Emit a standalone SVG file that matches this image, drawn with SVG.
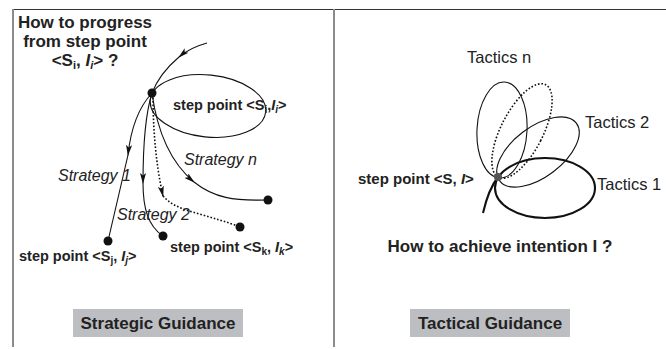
<svg xmlns="http://www.w3.org/2000/svg" width="666" height="349" viewBox="0 0 666 349">
<defs>
<style>
text{font-family:"Liberation Sans",Arial,sans-serif;fill:#222}
.b{font-weight:bold}
.h{font-size:17px;font-weight:bold}
.sp{font-size:14.5px;font-weight:bold}
.it{font-style:italic;font-size:16px}
.tac{font-size:16.5px}
.ln{fill:none;stroke:#111;stroke-width:1.1}
.dot{fill:none;stroke:#111;stroke-width:1.6;stroke-dasharray:1.6 1.9}
.thick{fill:none;stroke:#111;stroke-width:2.1}
.frame{stroke:#8c8c8c;stroke-width:2}
.box{fill:#bdbec1}
</style>
<marker id="arr" viewBox="0 0 11 6" refX="10" refY="3" markerWidth="11" markerHeight="6" markerUnits="userSpaceOnUse" orient="auto">
<path d="M0,0 L11,3 L0,6 L2.5,3 z" fill="#111"/>
</marker>
</defs>

<g id="frame">
<line x1="12" y1="9.5" x2="666" y2="9.5" stroke="#333" stroke-width="1.2"/>
<line class="frame" x1="13" y1="9" x2="13" y2="347"/>
<line class="frame" x1="334" y1="9" x2="334" y2="347"/>
</g>

<g id="connectors">
<!-- left: incoming -->
<path class="ln" d="M207,43 C196,46 186,51 179,57" marker-end="url(#arr)"/>
<path class="ln" d="M179,57 C166,68 157,80 152,93"/>
<!-- strategy 1 -->
<path class="ln" d="M152,93 C140,106 131,126 128,155" marker-end="url(#arr)"/>
<path class="ln" d="M128,155 L108,241"/>
<!-- strategy 2 solid -->
<path class="ln" d="M152,93 C146,112 143,142 143,183" marker-end="url(#arr)"/>
<path class="ln" d="M143,183 C143,208 148,226 163,236"/>
<!-- dotted -->
<path class="dot" d="M153,94 C153,130 156,165 163,196" marker-end="url(#arr)"/>
<path class="dot" d="M163,196 C172,206 185,210 196,213 C212,218 228,222 240,227"/>
<!-- strategy n -->
<path class="ln" d="M152,93 C157,130 170,162 194,182" marker-end="url(#arr)"/>
<path class="ln" d="M194,182 C214,198 234,201 268,200"/>
<!-- right: incoming thick -->
<path class="thick" d="M483,213 C486,200 491,186 498,177"/>
</g>

<g id="left-title">
<text class="h" x="85" y="28" text-anchor="middle">How to progress</text>
<text class="h" x="85" y="47" text-anchor="middle">from step point</text>
<text class="h" x="85" y="66" text-anchor="middle">&lt;S<tspan font-size="11" dy="3">i</tspan><tspan dy="-3">, </tspan><tspan font-style="italic">I</tspan><tspan font-size="11" dy="3" font-style="italic">i</tspan><tspan dy="-3">&gt; ?</tspan></text>
</g>

<g id="node-si">
<ellipse class="ln" cx="208" cy="106" rx="58" ry="31" transform="rotate(6 208 106)"/>
<text class="sp" x="173" y="110">step point &lt;S<tspan font-size="10" dy="3">i</tspan><tspan dy="-3">,</tspan><tspan font-style="italic">I</tspan><tspan font-size="10" dy="3" font-style="italic">i</tspan><tspan dy="-3">&gt;</tspan></text>
<circle cx="152" cy="93" r="4.5" fill="#111"/>
</g>

<g id="node-sj">
<circle cx="108" cy="241" r="4.5" fill="#111"/>
<text class="sp" x="19" y="261">step point &lt;S<tspan font-size="10" dy="3">j</tspan><tspan dy="-3">, </tspan><tspan font-style="italic">I</tspan><tspan font-size="10" dy="3" font-style="italic">j</tspan><tspan dy="-3">&gt;</tspan></text>
</g>

<g id="node-sk">
<circle cx="163" cy="236" r="4.5" fill="#111"/>
<circle cx="240" cy="227" r="4.5" fill="#111"/>
<circle cx="268" cy="200" r="4.5" fill="#111"/>
<text class="sp" x="170" y="252">step point &lt;S<tspan font-size="10" dy="3">k</tspan><tspan dy="-3">, </tspan><tspan font-style="italic">I</tspan><tspan font-size="10" dy="3" font-style="italic">k</tspan><tspan dy="-3">&gt;</tspan></text>
</g>

<g id="strategy-labels">
<text class="it" x="58" y="181">Strategy 1</text>
<text class="it" x="117" y="220">Strategy 2</text>
<text class="it" x="184" y="165" font-size="15">Strategy n</text>
</g>

<g id="label-strategic">
<rect class="box" x="73" y="309" width="170" height="28"/>
<text class="h" x="158" y="329" text-anchor="middle">Strategic Guidance</text>
</g>

<g id="tactics">
<ellipse class="ln" cx="502" cy="130" rx="25" ry="48" transform="rotate(3 502 130)"/>
<ellipse class="dot" cx="522" cy="131" rx="21" ry="52" transform="rotate(27 522 131)"/>
<ellipse class="ln" cx="538" cy="152" rx="48" ry="25" transform="rotate(-37 538 152)"/>
<ellipse class="thick" cx="545" cy="188" rx="50" ry="30"/>
<circle cx="498" cy="177" r="4" fill="#555"/>
<text class="tac" x="467" y="63">Tactics n</text>
<text class="tac" x="585" y="128">Tactics 2</text>
<text class="tac" x="597" y="190">Tactics 1</text>
<text class="b" x="358" y="184" font-size="15">step point &lt;S, <tspan font-style="italic">I</tspan>&gt;</text>
</g>

<g id="right-title">
<text class="h" x="500" y="252" text-anchor="middle">How to achieve intention I ?</text>
</g>

<g id="label-tactical">
<rect class="box" x="410" y="309" width="160" height="28"/>
<text class="h" x="490" y="329" text-anchor="middle">Tactical Guidance</text>
</g>
</svg>
